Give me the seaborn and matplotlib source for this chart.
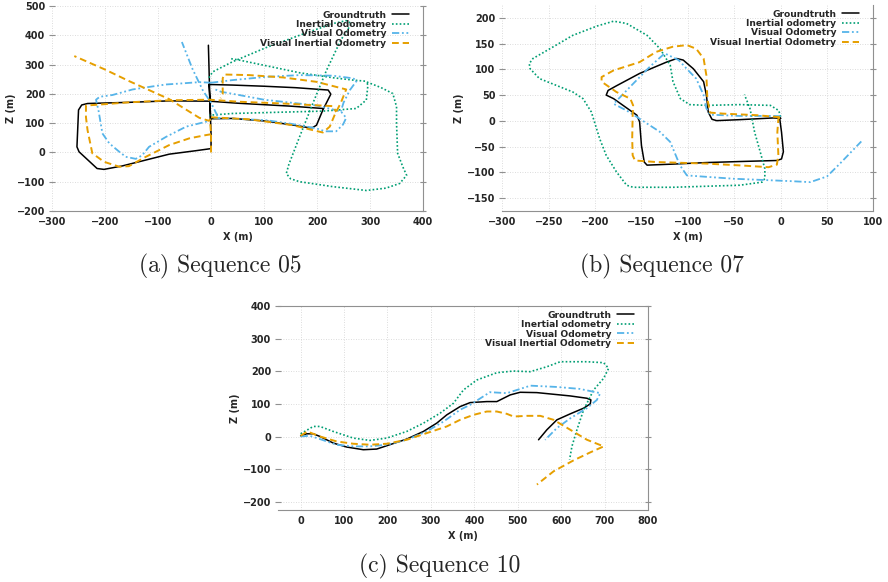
import matplotlib
matplotlib.use("Agg")
import matplotlib.pyplot as plt
import pandas as pd
import seaborn as sns

sns.set_style("white")
plt.rcParams["font.family"] = ["DejaVu Sans"]

SERIES = ["Groundtruth", "Inertial odometry", "Visual Odometry", "Visual Inertial Odometry"]

# ---------------- Sequence 05 (None separates path pieces) ----------------
gt05_x = [-5, -4, -3, -2, -1, 41, 104, 167, 185, 192, 199, 211, 226, 221, 160, 100, 40, -4, -2, -1, 0, 0,
          -28, -79, -123, -167, -202, -215, -249, -253, -250, -244, -233, -155, -79, -3, 50, 100, 150, 211]
gt05_y = [366, 300, 232, 175, 115, 116, 107, 90, 84, 85, 93, 145, 199, 213, 221, 226, 230, 232, 175, 115, 60, 13,
          6, -6, -26, -46, -58, -55, 2, 19, 145, 162, 167, 171, 176, 175, 168, 163, 158, 150]

io05_x = [-4, 3, 41, 104, 167, 230, 255, 265, 245, 218, 192, 167, 147, 142, 150, 167, 230, 293, 330, 356, 369, 362,
          352, 350, 350, 343, 320, 293, 296, 293, 274, 211, 167, 104, 41, -3,
          None, 38, 54, 104, 167, 230, 268, 293]
io05_y = [255, 275, 310, 358, 400, 440, 450, 440, 384, 281, 167, 53, -40, -72, -90, -100, -117, -130, -122, -106, -78, -50,
          -3, 100, 156, 201, 222, 241, 230, 179, 150, 141, 139, 136, 133, 127,
          None, 320, 315, 296, 272, 255, 247, 243]

vo05_x = [0, -22, -60, -85, -123, -148, -186, -210, -217, -212, -205, -192, -175, -161, -142, -130, -117, -85, -47, -9, 5,
          104, 150, 199, 215, 236, 249, 255, 245, 200, 150, 100, 41, 19, 8,
          None, 0, 41, 104, 167, 230, 268, 275, 262, 250, 245,
          None, 12, 0, -15, -35, -55]
vo05_y = [238, 240, 235, 232, 222, 215, 196, 190, 180, 140, 65, 31, 5, -15, -22, -10, 19, 53, 88, 105, 118,
          110, 98, 82, 72, 72, 95, 118, 140, 160, 170, 180, 200, 207, 215,
          None, 238, 247, 258, 264, 262, 253, 245, 213, 170, 140,
          None, 125, 170, 210, 285, 377]

vio05_x = [0, 0, -2, -4, -22, -79, -154, -200, -258,
           None, 0, -10, -41, -79, -123, -155, -173, -202, -224, -233, -236, -236, -155, -79, -3, 53, 135, 186, 230, 236,
           None, 0, 72, 154, 192, 211, 224, 233, 245, 255, 199, 136, 72, 25, 22, 22, 18]
vio05_y = [0, 62, 112, 108, 118, 182, 243, 283, 329,
           None, 62, 59, 48, 25, -15, -47, -49, -32, -3, 76, 120, 160, 171, 178, 180, 173, 167, 162, 158, 138,
           None, 120, 113, 93, 76, 68, 88, 127, 170, 215, 241, 256, 264, 266, 253, 200, 185]

# ---------------- Sequence 07 ----------------
gt07_x = [0, -8, -44, -69, -74, -78, -80, -83, -94, -105, -112, -123, -152, -177, -186, -188, -180, -155, -152, -150,
          -147, -144, -116, -80, -44, -4, 1, 3, 1, -1, 0]
gt07_y = [5, 5.6, 2.3, 0.4, 3, 17, 50, 76, 101, 118, 121, 114, 92, 68, 59, 50, 43, 11, -2, -48,
          -80, -86, -84, -81, -79, -77, -74, -60, -22, 5, 5]

io07_x = [0, -2, -11, -44, -80, -98, -108, -116, -119, -130, -144, -166, -180, -198, -224, -242, -267, -271, -270,
          -260, -242, -224, -213, -204, -195, -188, -177, -166, -159, -116, -80, -44, -20, -17, -17, -22, -28, -33, -39]
io07_y = [8, 20, 30, 31.5, 30, 31.5, 43, 76, 108, 140, 166, 189, 193.5, 184, 166, 147, 121, 111, 101,
          82, 69, 56, 43, 17, -35, -67, -99, -125, -129, -129, -127, -125, -119, -112, -93, -60, -22, 24, 51]

vo07_x = [0, -8, -44, -76, -80, -83, -91, -98, -110, -125, -141, -159, -180, -166, -155, -130, -119, -108.5, -101,
          -51, 10, 32, 50, 64, 87]
vo07_y = [9, 9.5, 9.5, 12, 24, 50, 82, 95, 118, 131, 105, 72, 33, 20, 7.6, -21.6, -41, -86.5, -106,
          -112.4, -117, -119, -108, -83, -40]

vio07_x = [-1, -26, -62, -76, -79, -80, -83, -91, -101, -116, -134, -152, -180, -193, -193, -177, -162, -159, -159.5,
           -160, -159.5, -157, -134, -80, -44, -13, -4, -2.4, -3.5, -2.4, -1]
vio07_y = [7, 11, 14, 16, 43, 88, 121, 140, 147, 144, 134, 114, 98, 85, 76, 56, 43, 30, 11,
           -35, -67, -77, -80, -83, -86.5, -90, -85, -67, -22, 4, 7]

# ---------------- Sequence 10 ----------------
gt10_x = [0, 13.8, 29.1, 44.5, 75.2, 105.9, 144.4, 175.1, 198.2, 244.3, 282.7, 313.4, 336.5, 367.2, 390.3, 428.7,
          451.8, 482.5, 505.5, 543.9, 620.8, 659.2, 668.4, 666.9, 651.5, 620.8, 590.1, 567.0, 547.8]
gt10_y = [2.4, 8.5, 8.5, 0.4, -19.9, -32, -40.3, -38.3, -28.1, -7.7, 15.7, 41.1, 66.5, 91.9, 104.1, 107.2,
          107.2, 127.6, 135.7, 134.7, 124.5, 117.4, 112.3, 100.1, 86.9, 69.6, 51.3, 20.8, -9.8]

io10_x = [0, 29.1, 44.5, 75.2, 121.3, 159.7, 198.2, 244.3, 282.7, 321.1, 351.9, 374.9, 405.7, 451.8, 490.2, 528.6,
          567.1, 597.8, 659.3, 697.7, 709.2, 697.7, 674.6, 651.6, 636.2, 624.7, 619.3]
io10_y = [8.5, 31, 31, 15.7, -4.7, -11.8, -4.7, 15.7, 41.1, 71.6, 102.1, 142.8, 173.3, 195.7, 200.8, 198.8,
          214, 229.3, 229.3, 226.3, 209, 178.5, 142.8, 81.8, 20.8, -30.1, -70.8]

vo10_x = [0, 21, 44.5, 83, 121, 160, 198, 244, 290, 329, 367, 390, 436, 475, 529, 590, 643, 690, 682, 659, 621, 590, 563]
vo10_y = [0.4, 2.4, -7.7, -25, -30, -30, -25, -10, 15.7, 46, 82, 97, 136, 133, 156, 152, 146, 133, 112, 87, 56, 26, -10]

vio10_x = [0, 15.4, 44.5, 82.9, 121.3, 159.8, 198.2, 244.3, 290.4, 336.5, 367.2, 398, 428.7, 451.8, 474.9, 490.2,
           521, 551.8, 582.5, 620.9, 659.3, 697.8, 667, 628.6, 582.5, 544.1]
vio10_y = [2.4, 15.7, 0.4, -14.9, -22, -25, -22, -9.8, 10.6, 31, 51.3, 66.5, 76.8, 76.8, 69.6, 61.4,
           63.5, 63.5, 51.3, 20.8, -9.8, -30.1, -48.4, -72.8, -106.4, -147.1]

STYLE = {
    "Groundtruth": dict(color="black", linewidth=1.1, linestyle="-"),
    "Inertial odometry": dict(color="#009e73", linewidth=1.2, linestyle=(0, (1, 1.3))),
    "Visual Odometry": dict(color="#56b4e9", linewidth=1.3, linestyle=(0, (4, 1.5, 1, 1.5, 1, 1.5))),
    "Visual Inertial Odometry": dict(color="#e69f00", linewidth=1.4, linestyle=(0, (3.5, 2))),
}


def to_df(xs, ys):
    rows, seg = [], 0
    for x, y in zip(xs, ys):
        if x is None:
            seg += 1
            continue
        rows.append((x, y, seg))
    return pd.DataFrame(rows, columns=["x", "y", "seg"])


def draw(ax, data, xlim, ylim, xticks, yticks, ylabelpad, top_spine=False):
    for name, (xs, ys) in zip(SERIES, data):
        df = to_df(xs, ys)
        sns.lineplot(data=df, x="x", y="y", units="seg", estimator=None, sort=False,
                     ax=ax, legend=False, label=name, **STYLE[name])
    ax.set_xlim(xlim)
    ax.set_ylim(ylim)
    ax.set_xticks(xticks)
    ax.set_yticks(yticks)
    ax.grid(True, color="#d0d0d0", linestyle=(0, (1, 2)), linewidth=0.6)
    ax.spines["left"].set_visible(False)
    ax.spines["top"].set_visible(top_spine)
    for s in ["bottom", "right", "top"]:
        ax.spines[s].set_color("#909090")
        ax.spines[s].set_linewidth(0.8)
    ax.tick_params(axis="x", direction="in", length=3, color="#909090", labelsize=7, pad=4)
    ax.tick_params(axis="y", direction="inout", length=4, color="#909090", labelsize=7, pad=3,
                   right=True, left=True)
    for lbl in ax.get_xticklabels() + ax.get_yticklabels():
        lbl.set_fontweight("bold")
    ax.set_xlabel("X (m)", fontsize=7, fontweight="bold", labelpad=4)
    ax.set_ylabel("Z (m)", fontsize=7, fontweight="bold", labelpad=ylabelpad)
    handles, labels = ax.get_legend_handles_labels()
    seen = {}
    for h, l in zip(handles, labels):
        seen.setdefault(l, h)
    ax.legend([seen[n] for n in SERIES], SERIES, loc="upper right", bbox_to_anchor=(0.975, 1.0),
              markerfirst=False, frameon=False, prop=dict(size=6.6, weight="bold"), labelspacing=0.05,
              handlelength=1.9, handletextpad=0.6, borderaxespad=0.3, borderpad=0.2)


fig = plt.figure(figsize=(8.88, 5.82), dpi=100)
ax_a = fig.add_axes([0.0586, 0.6375, 0.4178, 0.3522])
ax_b = fig.add_axes([0.5657, 0.6375, 0.4178, 0.3540])
ax_c = fig.add_axes([0.3131, 0.1237, 0.4167, 0.3505])

draw(ax_a, [(gt05_x, gt05_y), (io05_x, io05_y), (vo05_x, vo05_y), (vio05_x, vio05_y)],
     (-300, 400), (-200, 500), range(-300, 401, 100), range(-200, 501, 100), 0.5)
draw(ax_b, [(gt07_x, gt07_y), (io07_x, io07_y), (vo07_x, vo07_y), (vio07_x, vio07_y)],
     (-300, 100), (-175, 225), range(-300, 101, 50), range(-150, 201, 50), 2)
draw(ax_c, [(gt10_x, gt10_y), (io10_x, io10_y), (vo10_x, vo10_y), (vio10_x, vio10_y)],
     (-52, 800), (-225, 400), range(0, 801, 100), range(-200, 401, 100), 2, top_spine=True)

cap = dict(fontfamily="cmr10", fontsize=17, ha="center", va="center")
fig.text(220 / 888, 1 - 266 / 582, "(a) Sequence 05", **cap)
fig.text(662 / 888, 1 - 266 / 582, "(b) Sequence 07", **cap)
fig.text(440 / 888, 1 - 566 / 582, "(c) Sequence 10", **cap)

fig.savefig("out.png", dpi=100)
